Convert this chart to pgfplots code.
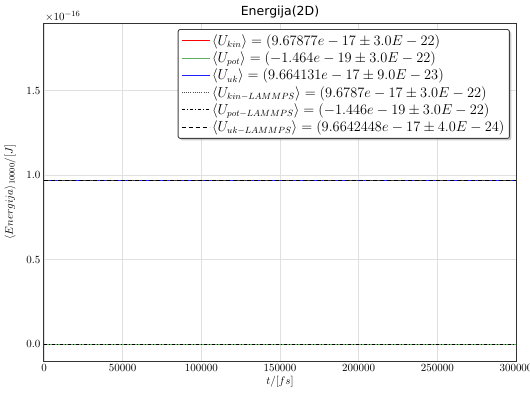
\documentclass[border=0pt]{standalone}
\usepackage{pgfplots}
\pgfplotsset{compat=1.18}
\usepackage{fontspec}
\newfontfamily\titlefont{DejaVu Sans}
\usetikzlibrary{shadows}
\definecolor{mgreen}{RGB}{95,175,95}
\definecolor{mblue}{RGB}{30,30,255}
\definecolor{mred}{RGB}{255,0,0}
\makeatletter
\tikzset{no preactions/.code={\let\tikz@preactions\pgfutil@empty}}
\makeatother
\begin{document}
\begin{tikzpicture}[x=1pt,y=1pt]
\useasboundingbox (-44,-36) rectangle (486,361);
\begin{axis}[
  scale only axis,
  width=472pt, height=338pt,
  xmin=0, xmax=300000, ymin=-1e-17, ymax=1.9e-16,
  xtick={0,50000,100000,150000,200000,250000,300000},
  ytick={0,0.5e-16,1e-16,1.5e-16},
  scaled x ticks=false,
  xticklabel style={/pgf/number format/fixed, /pgf/number format/1000 sep={}},
  scaled y ticks=base 10:16,
  tick scale binop=\times,
  yticklabel style={/pgf/number format/fixed, /pgf/number format/fixed zerofill, /pgf/number format/precision=1},
  tick label style={font=\fontsize{11}{13}\selectfont},
  every y tick scale label/.style={at={(0,1)}, anchor=south west, inner sep=1pt, font=\fontsize{11}{13}\selectfont},
  major tick length=0pt,
  grid=major,
  major grid style={black!12, line width=0.6pt},
  axis line style={black!80, line width=1pt},
  title={\titlefont Energija(2D)},
  title style={font=\fontsize{12.5}{14}\selectfont, yshift=-5pt},
  xlabel={$t/[fs]$},
  ylabel={$\langle Energija\rangle_{10000}/[J]$},
  label style={font=\fontsize{11}{13}\selectfont},
  xlabel style={yshift=2pt},
  ylabel style={yshift=4pt},
  legend cell align=left,
  legend style={at={(0.987,0.982)}, anchor=north east, rounded corners=2pt,
    draw=black!75, line width=0.9pt, fill=white, drop shadow={opacity=0.4, shadow xshift=2pt, shadow yshift=-2pt},
    font=\fontsize{13.5}{15}\selectfont, row sep=1pt, inner sep=3pt},
  legend image code/.code={\draw[no preactions, sharp corners, line width=0.8pt, #1] (2pt,0pt) -- (30pt,0pt);},
]
\addplot[draw=mred, line width=0.8pt, mark=none] coordinates {(0,9.67877e-17) (300000,9.67877e-17)};
\addlegendentry{$\langle U_{kin}\rangle = (9.67877e-17 \pm 3.0E-22)$}
\addplot[draw=mgreen, line width=1.4pt, mark=none] coordinates {(0,-1.464e-19) (300000,-1.464e-19)};
\addlegendentry{$\langle U_{pot}\rangle = (-1.464e-19 \pm 3.0E-22)$}
\addplot[draw=mblue, line width=1.1pt, mark=none,
  legend image code/.code={\draw[no preactions, sharp corners, line width=0.9pt, draw=mblue, solid] (2pt,0pt) -- (30pt,0pt);}]
  coordinates {(0,9.664131e-17) (300000,9.664131e-17)};
\addlegendentry{$\langle U_{uk}\rangle = (9.664131e-17 \pm 9.0E-23)$}
\addplot[draw=black!70, dash pattern=on 0.6pt off 1.6pt, line width=0.5pt, mark=none] coordinates {(0,9.6787e-17) (300000,9.6787e-17)};
\addlegendentry{$\langle U_{kin-LAMMPS}\rangle = (9.6787e-17 \pm 3.0E-22)$}
\addplot[draw=black, dash pattern=on 3pt off 2pt on 1pt off 2pt, line width=0.8pt, mark=none] coordinates {(0,-1.446e-19) (300000,-1.446e-19)};
\addlegendentry{$\langle U_{pot-LAMMPS}\rangle = (-1.446e-19 \pm 3.0E-22)$}
\addplot[draw=black, dash pattern=on 4pt off 3pt, line width=1pt, mark=none] coordinates {(0,9.6642448e-17) (300000,9.6642448e-17)};
\addlegendentry{$\langle U_{uk-LAMMPS}\rangle = (9.6642448e-17 \pm 4.0E-24)$}
\end{axis}
\end{tikzpicture}
\end{document}
